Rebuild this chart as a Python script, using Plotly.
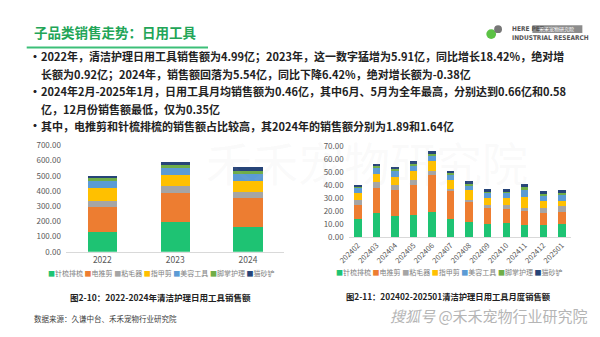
import plotly.graph_objects as go

W, H = 600, 337

# ---------------- data ----------------
series = ["针梳排梳", "电推剪", "粘毛器", "指甲剪", "美容工具", "脚掌护理", "猫砂铲"]
colors = ["#1EC373", "#ED7D31", "#A5A5A5", "#FFC000", "#5B9BD5", "#70AD47", "#264478"]

years = ["2022", "2023", "2024"]
comb_y = [128, 196, 164]
clipper_y = [163, 187, 189]
lint_y = [43, 47, 38]
nail_y = [85, 72, 71]
groom_y = [49, 49, 49]
paw_y = [15, 17, 21]
scoop_y = [16, 23, 22]

months = ["202402", "202403", "202404", "202405", "202406", "202407",
          "202408", "202409", "202410", "202411", "202412", "202501"]
comb_m = [14, 18.5, 16, 17, 19.2, 13.8, 11.3, 10.3, 11, 9.6, 9.4, 10.3]
clipper_m = [10.6, 18.9, 20.2, 23, 28.1, 21.2, 16.3, 12.9, 10.4, 10.1, 9.3, 8.9]
lint_m = [4, 4.5, 3.9, 3.6, 3.7, 1.7, 1.2, 1.4, 3, 3, 3.5, 4.7]
nail_m = [5.1, 6.4, 5.7, 6.9, 7.1, 6.9, 7.2, 5.4, 5.6, 8.1, 5.4, 4.1]
groom_m = [4.5, 5.1, 5.4, 4.2, 4.9, 3.7, 3.4, 3.7, 3.5, 5.4, 3.9, 5]
paw_m = [1, 1.3, 1.3, 1.3, 1.5, 1.7, 1.7, 1.8, 2, 2.2, 2.2, 1.5]
scoop_m = [0.9, 1.2, 1.2, 2, 1.5, 2, 1.9, 1.5, 1.5, 2.2, 1.3, 1.4]

annual = [comb_y, clipper_y, lint_y, nail_y, groom_y, paw_y, scoop_y]
monthly = [comb_m, clipper_m, lint_m, nail_m, groom_m, paw_m, scoop_m]

title_text = "子品类销售走势：日用工具"
bullets = [
    ("· ", "2022年，清洁护理日用工具销售额为4.99亿；2023年，这一数字猛增为5.91亿，同比增长18.42%，绝对增"),
    ("", "长额为0.92亿；2024年，销售额回落为5.54亿，同比下降6.42%，绝对增长额为-0.38亿"),
    ("· ", "2024年2月-2025年1月，日用工具月均销售额为0.46亿，其中6月、5月为全年最高，分别达到0.66亿和0.58"),
    ("", "亿，12月份销售额最低，仅为0.35亿"),
    ("· ", "其中，电推剪和针梳排梳的销售额占比较高，其2024年的销售额分别为1.89和1.64亿"),
]
caption1 = "图2-10：2022-2024年清洁护理日用工具销售额"
caption2 = "图2-11：202402-202501清洁护理日用工具月度销售额"
source = "数据来源：久谦中台、禾禾宠物行业研究院"

FONT = "Noto Sans CJK SC"

def px(x):
    return x / W

def py(y):
    return 1 - y / H

fig = go.Figure()
for name, col, vals in zip(series, colors, annual):
    fig.add_trace(go.Bar(x=years, y=vals, name=name, marker=dict(color=col, line=dict(width=0)),
                         xaxis="x", yaxis="y", showlegend=False))
for name, col, vals in zip(series, colors, monthly):
    fig.add_trace(go.Bar(x=months, y=vals, name=name, marker=dict(color=col, line=dict(width=0)),
                         xaxis="x2", yaxis="y2", showlegend=False))

tickfont = dict(family=FONT, size=8, color="#595959")
fig.update_layout(
    width=W, height=H, margin=dict(l=0, r=0, t=0, b=0),
    paper_bgcolor="white", plot_bgcolor="rgba(0,0,0,0)",
    barmode="stack", bargap=0.6, font=dict(family=FONT),
    xaxis=dict(domain=[px(55), px(278)], anchor="y", showline=True, linecolor="#d9d9d9",
               linewidth=1, ticks="", type="category",
               tickfont=dict(family=FONT, size=8.5, color="#595959"), showgrid=False),
    yaxis=dict(domain=[py(254), py(144)], anchor="x", range=[0, 700], dtick=100,
               tickformat=".2f", showgrid=False, zeroline=False, showline=False,
               tickfont=tickfont, ticklabelstandoff=4),
    xaxis2=dict(domain=[px(343.5), px(570.5)], anchor="y2", showline=True, linecolor="#d9d9d9",
                linewidth=1, ticks="", tickangle=-45, type="category",
                tickfont=dict(family=FONT, size=7.5, color="#595959"), showgrid=False),
    yaxis2=dict(domain=[py(239), py(144.5)], anchor="x2", range=[0, 70], dtick=10,
                tickformat=".2f", showgrid=False, zeroline=False, showline=False,
                tickfont=tickfont, ticklabelstandoff=4),
)

ann = []
def A(x, y, text, size, color, xanchor="left", family=FONT):
    ann.append(dict(x=px(x), y=py(y), xref="paper", yref="paper", text=text, showarrow=False,
                    font=dict(family=family, size=size, color=color),
                    xanchor=xanchor, yanchor="middle"))

# faint background watermark
A(362, 160, "禾禾宠物研究院", 46, "rgba(190,190,190,0.07)", "center")
# title
A(20, 27, "<b>" + title_text + "</b>", 13.5, "#22A557")
# logo text
A(508, 24, "<b>HERE PET</b>", 6.5, "#555555", family="DejaVu Sans Condensed")
A(508, 33, "<b>INDUSTRIAL RESEARCH</b>", 6.5, "#555555", family="DejaVu Sans Condensed")
A(556, 24, "禾禾宠物研究院", 5, "white", "center")
# bullets
ys = [52, 70, 88, 106, 124]
for (b, t), yy in zip(bullets, ys):
    if b:
        A(15, yy, "<b>·</b>", 12, "#222222")
    A(28, yy, "<b>" + t + "</b>", 11, "#222222")

# legends
def legend_text():
    parts = []
    for name, col in zip(series, colors):
        parts.append("<span style='color:%s'>■</span><span style='color:#7f7f7f'>%s</span>" % (col, name))
    return " ".join(parts)

A(152, 276, legend_text(), 7, "#7f7f7f", "center")
A(446, 275, legend_text(), 7, "#7f7f7f", "center")
# captions
A(152, 301, "<b>" + caption1 + "</b>", 8.5, "#222222", "center")
A(445, 300, "<b>" + caption2 + "</b>", 8.3, "#222222", "center")
A(20, 323, source, 7.5, "#404040")
A(590, 320, "<i>搜狐号</i> @禾禾宠物行业研究院", 15, "#b5b5b5", "right")
fig.update_layout(annotations=ann)

shapes = [
    dict(type="line", xref="paper", yref="paper", x0=px(15), x1=px(200), y0=py(43), y1=py(43),
         line=dict(color="#3CBF78", width=2)),
    dict(type="rect", xref="paper", yref="paper", x0=px(531), x1=px(582), y0=py(20), y1=py(28),
         fillcolor="#8c8c8c", line=dict(width=0), layer="below"),
    dict(type="circle", xref="paper", yref="paper", x0=px(484), x1=px(494), y0=py(34), y1=py(24),
         fillcolor="#5cc245", line=dict(width=0)),
    dict(type="circle", xref="paper", yref="paper", x0=px(492), x1=px(500), y0=py(28), y1=py(20),
         fillcolor="#777777", line=dict(width=0)),
]
fig.update_layout(shapes=shapes)

fig.write_html("out.html")
